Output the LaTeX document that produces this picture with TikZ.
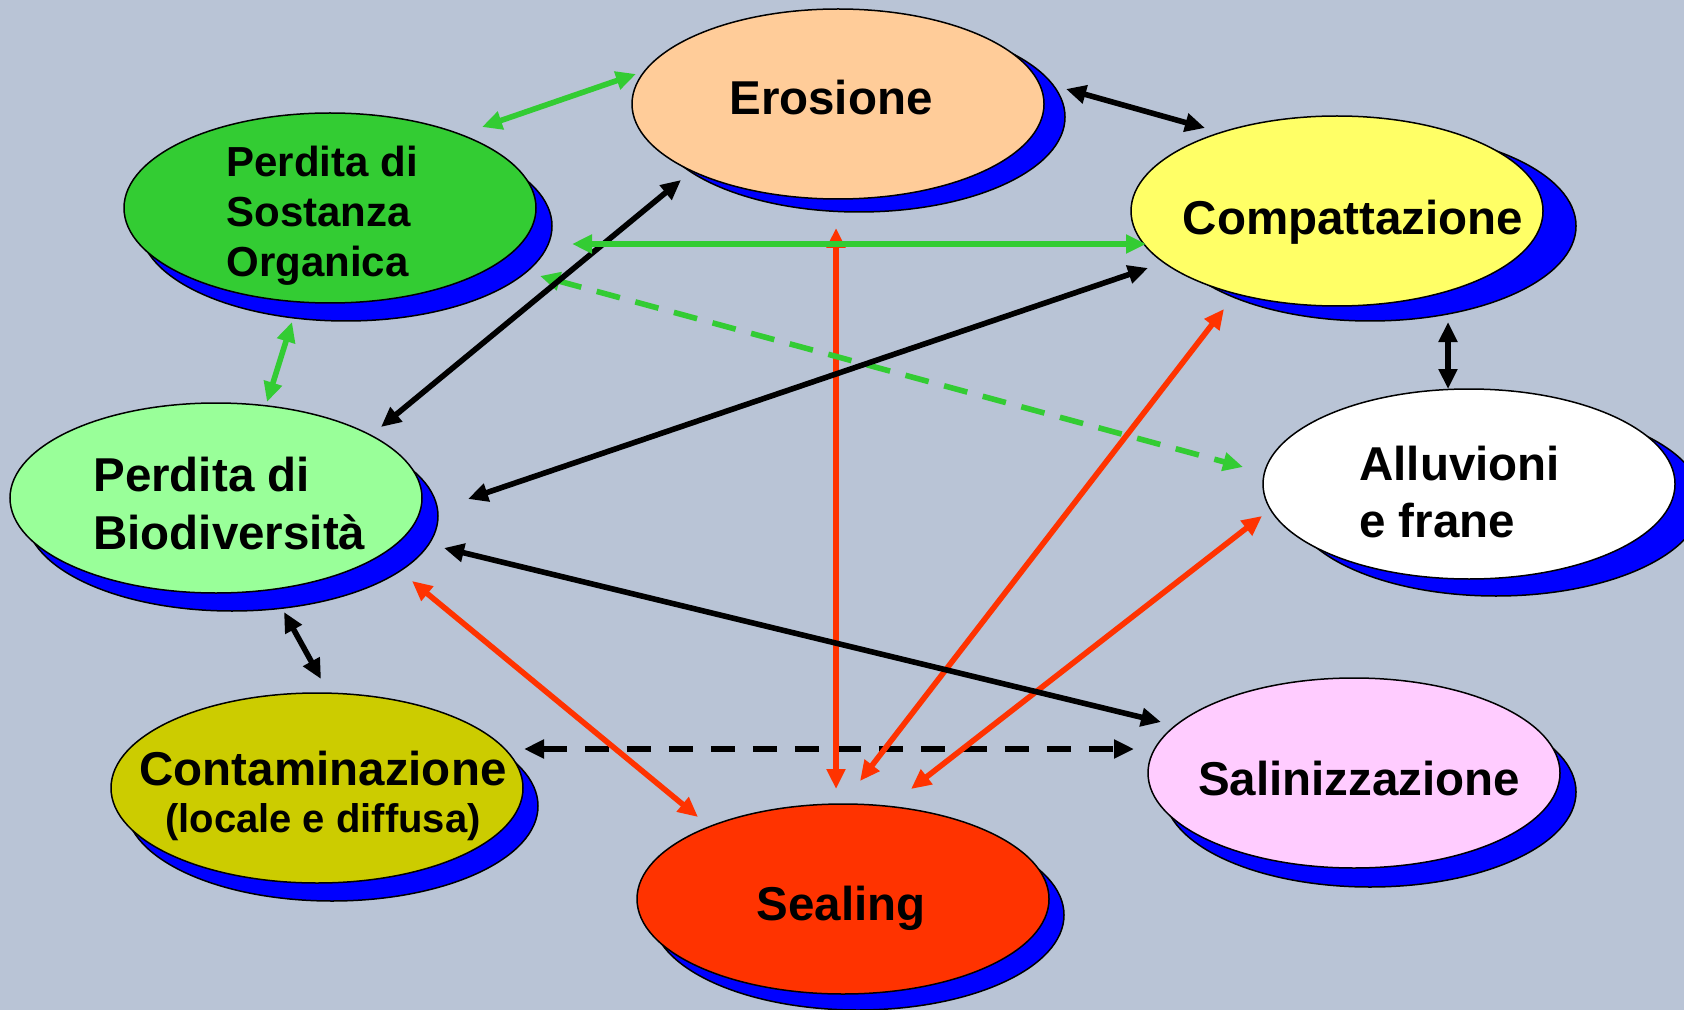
\documentclass[tikz,border=0pt]{standalone}
\usepackage{fontspec}
\setmainfont{Liberation Sans}
\usetikzlibrary{shapes.geometric,arrows.meta,calc}

\definecolor{bg}{RGB}{185,196,214}
\definecolor{cero}{RGB}{255,204,153}
\definecolor{ccomp}{RGB}{255,255,102}
\definecolor{cpso}{RGB}{51,204,51}
\definecolor{cbio}{RGB}{153,255,153}
\definecolor{ccont}{RGB}{204,204,0}
\definecolor{cseal}{RGB}{255,51,0}
\definecolor{csali}{RGB}{255,204,255}
\definecolor{cshadow}{RGB}{0,0,255}
\definecolor{agreen}{RGB}{51,204,51}
\definecolor{ared}{RGB}{255,51,0}

\begin{document}
\begin{tikzpicture}[x=0.5pt,y=-0.5pt,
  bub/.style={ellipse,draw=black,line width=0.75pt,minimum width=206pt,minimum height=95pt,inner sep=0pt},
  shad/.style={bub,fill=cshadow},
  lbl/.style={inner sep=0pt},
  big/.style={font=\bfseries\fontsize{23.75}{28}\selectfont},
  conn/.style={line width=2.8pt,{Triangle[length=10pt,width=9pt]}-{Triangle[length=10pt,width=9pt]}},
  gconn/.style={conn,draw=agreen},
  rconn/.style={conn,draw=ared},
  kconn/.style={conn,draw=black},
  gdash/.style={dash pattern=on 12pt off 8pt},
  kdash/.style={dash pattern=on 12pt off 9pt}
]
\fill[bg] (0,0) rectangle (1684,1010);
\useasboundingbox (0,0) rectangle (1684,1010);

% shadows
\node[shad] (ero-s)  at (859,117) {};
\node[shad] (comp-s) at (1370,226) {};
\node[shad] (allu-s) at (1496,501) {};
\node[shad] (pso-s)  at (346,226) {};
\node[shad] (bio-s)  at (232,516) {};
\node[shad] (cont-s) at (332,806) {};
\node[shad] (seal-s) at (858,915) {};
\node[shad] (sali-s) at (1370,792) {};

% ellipses
\node[bub,fill=cero]  (ero)  at (838,104) {};
\node[bub,fill=ccomp] (comp) at (1337,211) {};
\node[bub,fill=white] (allu) at (1469,484) {};
\node[bub,fill=cpso]  (pso)  at (330,208) {};
\node[bub,fill=cbio]  (bio)  at (216,498) {};
\node[bub,fill=ccont] (cont) at (317,788) {};
\node[bub,fill=cseal] (seal) at (843,899) {};
\node[bub,fill=csali] (sali) at (1354,773) {};

% labels
\node[lbl,big,anchor=base] (ero-t) at (831,115) {Erosione};
\node[lbl,big,anchor=base] (comp-t) at (1353,235) {Compattazione};
\node[lbl,anchor=base west,font=\bfseries\fontsize{21}{25}\selectfont] (pso-t) at (226,177)
  {\begin{tabular}[t]{@{}l@{}}Perdita di\\Sostanza\\Organica\end{tabular}};
\node[lbl,anchor=base west,font=\bfseries\fontsize{23.75}{29}\selectfont] (bio-t) at (93,491)
  {\begin{tabular}[t]{@{}l@{}}Perdita di\\Biodiversità\end{tabular}};
\node[lbl,anchor=base west,font=\bfseries\fontsize{23.75}{28.5}\selectfont] (allu-t) at (1359,480)
  {\begin{tabular}[t]{@{}l@{}}Alluvioni\\e frane\end{tabular}};
\node[lbl,anchor=base,font=\bfseries\fontsize{23.75}{23.5}\selectfont] (cont-t) at (323,785)
  {\begin{tabular}[t]{@{}c@{}}Contaminazione\\{\fontsize{20}{24}\selectfont (locale e diffusa)}\end{tabular}};
\node[lbl,big,anchor=base] (seal-t) at (841,920) {Sealing};
\node[lbl,big,anchor=base] (sali-t) at (1359,795) {Salinizzazione};

% connector end points
\coordinate (p1a) at (482,127);  \coordinate (p1b) at (636,74);
\coordinate (p2a) at (1066,89);  \coordinate (p2b) at (1205,128);
\coordinate (p3a) at (572,244);  \coordinate (p3b) at (1146,244);
\coordinate (p4a) at (540,276);  \coordinate (p4b) at (1243,467);
\coordinate (p5a) at (836,228);  \coordinate (p5b) at (836,789);
\coordinate (p6a) at (381,427);  \coordinate (p6b) at (681,180);
\coordinate (p7a) at (468,499);  \coordinate (p7b) at (1148,268);
\coordinate (p8a) at (1448,322); \coordinate (p8b) at (1448,389);
\coordinate (p9a) at (292,322);  \coordinate (p9b) at (267,402);
\coordinate (p10a) at (284,612); \coordinate (p10b) at (321,679);
\coordinate (p11a) at (444,548); \coordinate (p11b) at (1161,722);
\coordinate (p12a) at (412,581); \coordinate (p12b) at (698,817);
\coordinate (p13a) at (524,749); \coordinate (p13b) at (1134,749);
\coordinate (p14a) at (860,781); \coordinate (p14b) at (1224,309);
\coordinate (p15a) at (911,789); \coordinate (p15b) at (1262,516);

% black dashed connector (Contaminazione - Salinizzazione)
\draw[kconn,kdash] (p13a) -- (p13b);
% red connectors
\draw[rconn] (p5a) -- (p5b);
\draw[rconn] (p12a) -- (p12b);
\draw[rconn] (p14a) -- (p14b);
\draw[rconn] (p15a) -- (p15b);
% green dashed connector
\draw[gconn,gdash] (p4a) -- (p4b);
% black connectors
\draw[kconn] (p2a) -- (p2b);
\draw[kconn] (p6a) -- (p6b);
\draw[kconn] (p7a) -- (p7b);
\draw[kconn] (p8a) -- (p8b);
\draw[kconn] (p10a) -- (p10b);
\draw[kconn] (p11a) -- (p11b);
% green connectors
\draw[gconn] (p1a) -- (p1b);
\draw[gconn] (p3a) -- (p3b);
\draw[gconn] (p9a) -- (p9b);
\end{tikzpicture}
\end{document}
